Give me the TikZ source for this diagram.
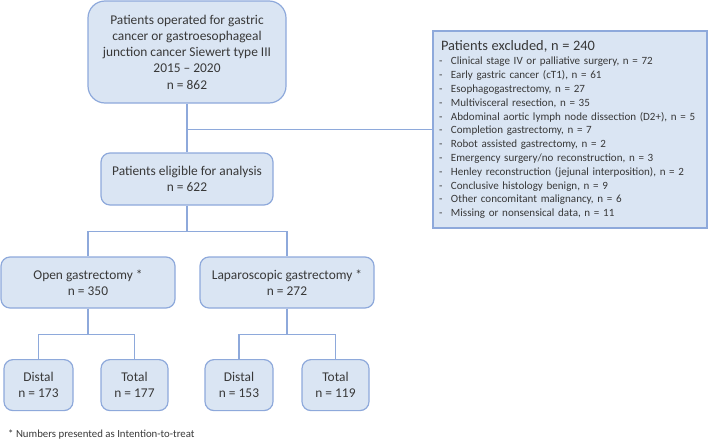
\documentclass[tikz,border=0pt]{standalone}
\usepackage{fontspec}
\setmainfont{Carlito}
\usetikzlibrary{positioning,calc}
\definecolor{boxfill}{HTML}{DAE5F3}
\definecolor{boxline}{HTML}{8EA9DB}
\definecolor{boxtext}{HTML}{383838}
\tikzset{
  flowbox/.style={draw=boxline, fill=boxfill, line width=1.2pt, rounded corners=9pt,
    align=center, text=boxtext, inner sep=0pt, font=\fontsize{13.4}{16.3}\selectfont},
  link/.style={draw=boxline, line width=1.2pt},
}
\newcommand{\exitem}[1]{\mbox{\makebox[12pt][l]{-}#1}}

\begin{document}
\begin{tikzpicture}[x=1pt, y=-1pt]
  \useasboundingbox (0,0) rectangle (708,442);
  \node[flowbox, rounded corners=17pt, minimum width=198pt, minimum height=102pt] (operated) at (187,52)
    {Patients operated for gastric\\ cancer or gastroesophageal\\ junction cancer Siewert type III\\ 2015 -- 2020\\ n = 862};
  \node[flowbox, minimum width=172pt, minimum height=52pt] (eligible) at (187,179)
    {Patients eligible for analysis\\ n = 622};
  \node[flowbox, rounded corners=0pt, minimum width=274pt, minimum height=197pt, align=left,
    text width=262pt, inner xsep=6pt, font=\fontsize{11.05}{13.8}\selectfont] (excluded) at (570,129.5)
    {{\fontsize{14.4}{16}\selectfont\hspace*{2pt}Patients excluded, n = 240}\\[0.5pt]
     \exitem{Clinical stage IV or palliative surgery, n = 72}\\
     \exitem{Early gastric cancer (cT1), n = 61}\\
     \exitem{Esophagogastrectomy, n = 27}\\
     \exitem{Multivisceral resection, n = 35}\\
     \exitem{Abdominal aortic lymph node dissection (D2+), n = 5}\\
     \exitem{Completion gastrectomy, n = 7}\\
     \exitem{Robot assisted gastrectomy, n = 2}\\
     \exitem{Emergency surgery/no reconstruction, n = 3}\\
     \exitem{Henley reconstruction (jejunal interposition), n = 2}\\
     \exitem{Conclusive histology benign, n = 9}\\
     \exitem{Other concomitant malignancy, n = 6}\\
     \exitem{Missing or nonsensical data, n = 11}};
  \node[flowbox, minimum width=174pt, minimum height=51pt] (open) at (88,282.5)
    {Open gastrectomy *\\ n = 350};
  \node[flowbox, minimum width=174pt, minimum height=51pt] (lap) at (287,282.5)
    {Laparoscopic gastrectomy *\\ n = 272};
  \node[flowbox, minimum width=69pt, minimum height=51pt] (opendistal) at ($(open.south) + (-49.5,76.5)$)
    {Distal\\ n = 173};
  \node[flowbox, minimum width=67pt, minimum height=51pt] (opentotal) at ($(open.south) + (46.5,76.5)$)
    {Total\\ n = 177};
  \node[flowbox, minimum width=68pt, minimum height=51pt] (lapdistal) at ($(lap.south) + (-48,76.5)$)
    {Distal\\ n = 153};
  \node[flowbox, minimum width=67pt, minimum height=51pt] (laptotal) at ($(lap.south) + (48.5,76.5)$)
    {Total\\ n = 119};
  \node[anchor=west, inner sep=0pt, text=boxtext, font=\fontsize{10.8}{13}\selectfont] (note) at (8,435)
    {* Numbers presented as Intention-to-treat};

  \coordinate (exjoin) at (operated.south |- excluded.west);
  \draw[link] (operated) -- (eligible);
  \draw[link] (exjoin) -- (excluded.west);
  \draw[link] (eligible.south) -- ++(0,26) -| (open.north);
  \draw[link] (eligible.south) -- ++(0,26) -| (lap.north);
  \draw[link] (open.south) -- ++(0,25.5) -| (opendistal.north);
  \draw[link] (open.south) -- ++(0,25.5) -| (opentotal.north);
  \draw[link] (lap.south) -- ++(0,25.5) -| (lapdistal.north);
  \draw[link] (lap.south) -- ++(0,25.5) -| (laptotal.north);
\end{tikzpicture}
\end{document}
